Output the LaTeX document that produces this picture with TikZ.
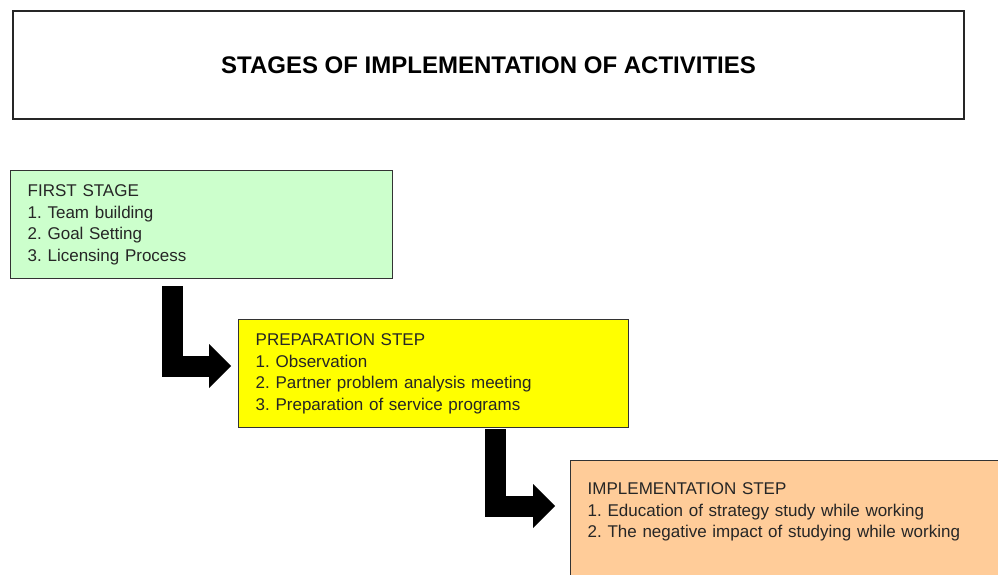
\documentclass[tikz,border=0pt]{standalone}
\usepackage{fontspec}
\setmainfont{Liberation Sans}
\usetikzlibrary{positioning, calc, arrows.meta}
\frenchspacing

\definecolor{stagegreen}{RGB}{204,255,204}
\definecolor{stageyellow}{RGB}{255,255,0}
\definecolor{stageorange}{RGB}{255,204,153}

\begin{document}
\begin{tikzpicture}[x=0.75pt,y=-0.75pt]
		\tikzstyle{titlebox} = [draw=black!85, line width=1.5pt, anchor=north west, minimum width=713.25pt, minimum height=81pt, font=\bfseries\fontsize{18}{21}\selectfont]
		\tikzstyle{box} = [draw=black!80, line width=1.1pt, anchor=north west, align=left, inner xsep=12.75pt, text=black!85, font=\fontsize{12.75}{16.1}\selectfont]
		\tikzstyle{thick_arrow} = [line width=15.75pt, line join=miter, -{Triangle[width=33pt,length=16.5pt,line width=0pt]}]
		\useasboundingbox (0,0) rectangle (998,574);
		\clip (0,0) rectangle (998,574);
		\node [titlebox] (v1) at (12,10) {STAGES OF IMPLEMENTATION OF ACTIVITIES};
		\node [box, fill=stagegreen, text width=261pt, minimum height=81pt] (v2) at (10,170) {FIRST STAGE\\1. Team building\\2. Goal Setting\\3. Licensing Process};
		\node [box, fill=stageyellow, text width=267pt, minimum height=81pt] (v3) at (238,319) {PREPARATION STEP\\1. Observation\\2. Partner problem analysis meeting\\3. Preparation of service programs};
		\node [box, fill=stageorange, text width=304.5pt, inner ysep=16.5pt, text depth=80pt] (v4) at (570,460) {IMPLEMENTATION STEP\\1. Education of strategy study while working\\2. The negative impact of studying while working};
		\draw [thick_arrow] ($(v2.south west)+(162,7)$) |- ($(v3.north west)+(-7,47)$);
		\draw [thick_arrow] ($(v3.south west)+(257,1)$) |- ($(v4.north west)+(-15,46)$);
\end{tikzpicture}
\end{document}
